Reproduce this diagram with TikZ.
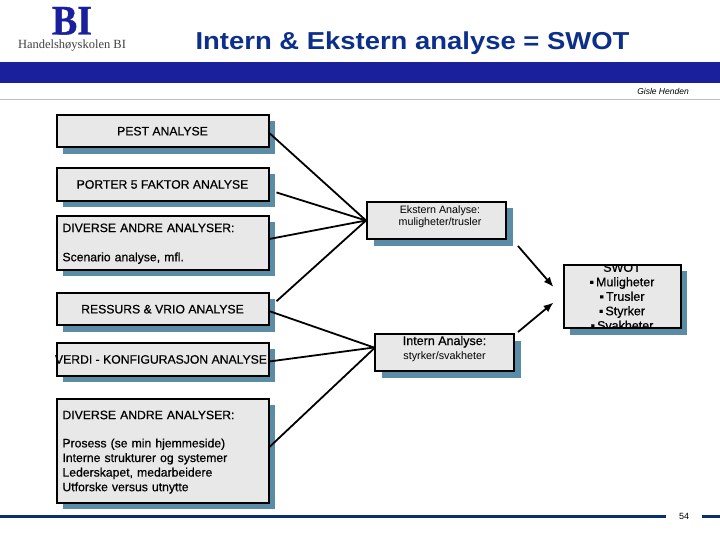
\documentclass[tikz,border=0pt]{standalone}
\usepackage{fontspec}
\setmainfont{Liberation Sans}
\newfontfamily\logofont[FakeStretch=0.9,FakeBold=1]{Liberation Serif}
\newfontfamily\titlefont[FakeStretch=1.12]{Liberation Sans}
\newfontfamily\heavyfont[FakeBold=0.5]{Liberation Sans}
\usepackage{xcolor}
\usetikzlibrary{positioning,arrows.meta,calc,shadows}
\definecolor{bibar}{HTML}{1A1F9C}
\definecolor{bititle}{HTML}{0B2F8A}
\definecolor{bifoot}{HTML}{0B2F6E}
\definecolor{bibox}{HTML}{E8E8E8}
\definecolor{bishadow}{HTML}{5B8CA5}
\begin{document}
\begin{tikzpicture}[x=1pt,y=-1pt,font=\heavyfont\fontsize{12.2}{14.6}\selectfont,node distance=18pt]
  \tikzstyle{b}=[draw,line width=2pt,fill=bibox,text=black,minimum width=212pt,inner sep=0pt,align=center,
    general shadow={fill=bishadow,shadow xshift=6.5pt,shadow yshift=-6.5pt}]
  \tikzstyle{l}=[b,align=left,text width=200pt]
  \tikzstyle{a}=[line width=1.8pt]
  \tikzstyle{h}=[a,-{Latex[length=10pt,width=8pt]}]
  \useasboundingbox (0,0) rectangle (720,540);
  \fill[bibar] (0,62) rectangle (720,83);
  \draw[black!25,line width=1pt] (0,100) -- (720,100);
  \fill[bifoot] (0,515) rectangle (666,518);
  \fill[bifoot] (702,515) rectangle (720,518);
  \node[font=\logofont\bfseries\fontsize{42}{42}\selectfont,text=bibar,inner sep=0pt,anchor=base] (bi) at (72,34.5) {BI};
  \node[font=\logofont\fontsize{12.5}{14}\selectfont,text=black!75,inner sep=0pt,anchor=base] (hs) at (72,49) {\fontspec{Liberation Serif}Handelshøyskolen BI};
  \node[font=\titlefont\bfseries\fontsize{24.5}{26}\selectfont,text=bititle,inner sep=0pt,anchor=base] (title) at (412.5,50) {Intern \& Ekstern analyse = SWOT};
  \node[font=\normalfont\itshape\fontsize{8.5}{10}\selectfont,inner sep=0pt] (gisle) at (663,91) {Gisle Henden};
  \node[font=\normalfont\fontsize{9}{10}\selectfont,inner sep=0pt] (page) at (684,516) {54};
  \node[b,minimum height=32.5pt] (pest) at (162.5,131.2) {PEST ANALYSE};
  \node[b,minimum height=33pt,below=18.5pt of pest] (porter) {PORTER 5 FAKTOR ANALYSE};
  \node[l,minimum height=54pt,below=13pt of porter] (div) {\rule{0pt}{10pt}DIVERSE ANDRE ANALYSER:\\[14.6pt]Scenario analyse, mfl.};
  \node[b,minimum height=32.5pt,below=21pt of div] (ressurs) {RESSURS \& VRIO ANALYSE};
  \node[b,minimum height=33pt,below=15.5pt of ressurs] (verdi) {\kern-3pt VERDI - KONFIGURASJON ANALYSE};
  \node[l,minimum height=104pt,below=21pt of verdi] (intdiv) {\rule{0pt}{11pt}DIVERSE ANDRE ANALYSER:\\[13.6pt]Prosess (se min hjemmeside)\\Interne strukturer og systemer\\Lederskapet, medarbeidere\\Utforske versus utnytte};
  \node[b,minimum width=139pt,minimum height=37pt,font=\normalfont\fontsize{10.7}{12}\selectfont] (ekstern) at (436.5,220.5) {\hspace*{7pt}Ekstern Analyse:\\\hspace*{7pt}muligheter/trusler\\[-3pt]~};
  \node[b,minimum width=139pt,minimum height=37pt,font=\normalfont\fontsize{10.8}{14}\selectfont] (intern) at (444.5,352.5) {{\heavyfont\fontsize{12.5}{14}\selectfont Intern Analyse:}\\styrker/svakheter\\[-4pt]~};
  \node[b,minimum width=117pt,minimum height=63.5pt,
    path picture={\node[align=center,inner sep=0pt,font=\heavyfont\fontsize{12.5}{14.5}\selectfont] (swottext) at (path picture bounding box.center) {SWOT\\▪\,Muligheter\\▪\,Trusler\\▪\,Styrker\\▪\,Svakheter};}] (swot) at (622,296.5) {};
  \draw[a] ([yshift=-2pt]pest.east) -- (ekstern.west);
  \draw[a] ([xshift=7pt,yshift=-8pt]porter.east) -- (ekstern.west);
  \draw[a] ([yshift=4pt]div.east) -- (ekstern.west);
  \draw[a] ([xshift=7pt,yshift=8pt]ressurs.east) -- (ekstern.west);
  \draw[a] ([yshift=-2pt]ressurs.east) -- ([yshift=5pt]intern.west);
  \draw[a] ([yshift=-2pt]verdi.east) -- ([yshift=5pt]intern.west);
  \draw[a] ([yshift=4pt]intdiv.east) -- ([yshift=4pt]intern.west);
  \draw[h] ([xshift=11pt,yshift=-6pt]ekstern.south east) -- ([xshift=-9pt,yshift=9.5pt]swot.west);
  \draw[h] ([xshift=3pt,yshift=1pt]intern.north east) -- ([xshift=-9pt,yshift=-6pt]swot.west);
\end{tikzpicture}
\end{document}
